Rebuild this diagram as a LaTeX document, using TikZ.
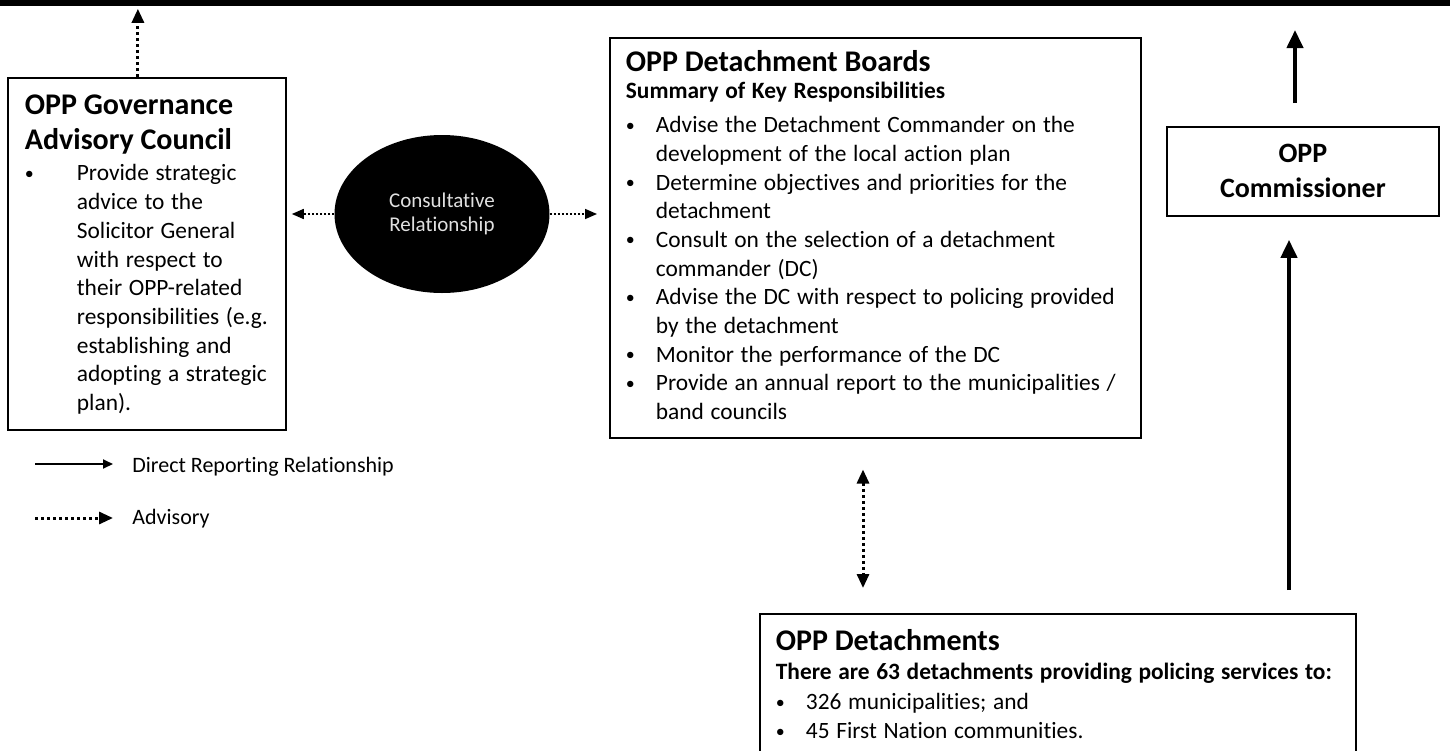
\documentclass[tikz,border=0pt]{standalone}
\usepackage{fontspec}
\setmainfont{Carlito}[Ligatures={NoCommon}]
\usetikzlibrary{shapes.geometric,arrows.meta,positioning}

% sizes of the box texts
\newcommand{\boxtitle}{\fontsize{15}{17.5}\selectfont\bfseries}
\newcommand{\boxsub}{\fontsize{11.7}{13.5}\selectfont\bfseries}
\newcommand{\boxbody}{\fontsize{11.7}{14.35}\selectfont}
\newcommand{\bitem}[2]{\par\noindent\hangindent=#1\hangafter=1\rightskip=0pt plus 1fil minus 10pt%
	\makebox[#1][l]{\raisebox{0.8pt}{\fontsize{9}{9}\selectfont\textbullet}}#2}

\begin{document}
\begin{tikzpicture}[x=0.5pt, y=-0.5pt,
		panel/.style={draw, line width=0.9pt, anchor=north west, align=left, inner ysep=6pt},
		report/.style={line width=2pt, -{Triangle[length=9pt,width=8pt]}},
		advise/.style={line width=1.5pt, dash pattern=on 1.5pt off 1.5pt, -{Triangle[length=7pt,width=6pt]}},
		consult/.style={line width=0.8pt, dash pattern=on 1pt off 1pt, -{Triangle[length=6pt,width=5pt]}},
		legtext/.style={anchor=west, inner sep=0pt, font=\fontsize{11}{13}\selectfont}]

	\useasboundingbox (0,0) rectangle (1450,750);

	% bar along the top edge
	\node[fill=black, anchor=north west, minimum width=725pt, minimum height=5pt, inner sep=0pt] (bar) at (0,-4) {};

	% Governance Advisory Council
	\node[panel, text width=122pt, inner xsep=8.5pt] (gac) at (7,77) {%
		{\boxtitle\rule{0pt}{12.5pt}OPP Governance\newline Advisory Council\par}
		\vspace{1.15pt}
		{\boxbody\bitem{26pt}{Provide strategic\newline advice to the\newline Solicitor General\newline with respect to\newline their OPP-related\newline responsibilities (e.g.\newline establishing and\newline adopting a strategic\newline plan).\rule[-3.7pt]{0pt}{0pt}}\par}};

	% Detachment Boards
	\node[panel, text width=249.5pt, inner xsep=8pt] (mdb) at (609,37) {%
		{\boxtitle\rule{0pt}{11pt}OPP Detachment Boards\par}
		{\boxsub Summary of Key Responsibilities\par}
		\vspace{2.5pt}
		{\boxbody
			\bitem{15pt}{Advise the Detachment Commander on the\newline development of the local action plan}
			\bitem{15pt}{Determine objectives and priorities for the\newline detachment}
			\bitem{15pt}{Consult on the selection of a detachment\newline commander (DC)}
			\bitem{15pt}{Advise the DC with respect to policing provided\newline by the detachment}
			\bitem{15pt}{Monitor the performance of the DC}
			\bitem{15pt}{Provide an annual report to the municipalities /\newline band councils\rule[-3pt]{0pt}{0pt}}\par}};

	% Commissioner
	\node[panel, align=center, minimum width=136pt, minimum height=44.5pt, inner sep=0pt,
		font=\fontsize{14}{17.5}\selectfont\bfseries] (comm) at (1166,126) {OPP\\Commissioner};

	% Detachments
	\node[panel, text width=282pt, inner xsep=8pt] (det) at (759,613) {%
		{\boxtitle\rule{0pt}{12.5pt}OPP Detachments\par}
		{\fontsize{11.7}{14.5}\selectfont\bfseries There are 63 detachments providing policing services to:\par}
		\vspace{0.65pt}
		{\boxbody\bitem{15pt}{326 municipalities; and}\bitem{15pt}{45 First Nation communities.\rule[-40pt]{0pt}{0pt}}\par}};

	\node[ellipse, fill=black, minimum width=107.5pt, minimum height=79pt, inner sep=0pt, text=black!12,
		align=center, font=\fontsize{10.5}{11.8}\selectfont] (cons) at (442,214) {Consultative\\Relationship};

	% connectors
	\coordinate (upend) at (1295,30);
	\coordinate (detup) at (1289,590);
	\coordinate (vlink) at (863,0);
	\draw[advise, shorten >=1pt] ([xshift=-4.5pt]gac.north) -- ([xshift=-4.5pt]gac.north |- bar.south);
	\draw[report, shorten <=11.5pt] (upend |- comm.north) -- (upend);
	\draw[report, shorten >=11.5pt] (detup) -- (detup |- comm.south);
	\draw[advise, {Triangle[length=7pt,width=6pt]}-{Triangle[length=7pt,width=6pt]}, shorten <=15.5pt, shorten >=12.5pt]
		(vlink |- mdb.south) -- (vlink |- det.north);
	\draw[consult, shorten >=2.5pt] (cons.west) -- (cons.west -| gac.east);
	\draw[consult, shorten >=6pt] (cons.east) -- (cons.east -| mdb.west);

	% legend
	\node[legtext] (lgrep) at (132,467) {Direct Reporting Relationship};
	\node[legtext] (lgadv) at (132,519) {Advisory};
	\coordinate (lrep) at (35,464);
	\coordinate (ladv) at (35,518);
	\draw[line width=0.9pt, -{Triangle[length=5pt,width=4.5pt]}, shorten >=9.5pt] (lrep) -- (lrep -| lgrep.west);
	\draw[advise, shorten >=9.5pt] (ladv) -- (ladv -| lgadv.west);
\end{tikzpicture}
\end{document}
